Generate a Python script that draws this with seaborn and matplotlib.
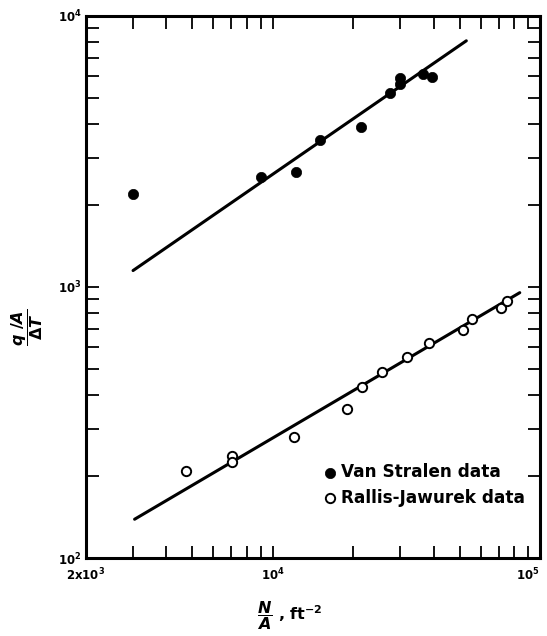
import numpy as np
import pandas as pd
import matplotlib
matplotlib.use("Agg")
import matplotlib.pyplot as plt
import seaborn as sns

# Van Stralen data (filled)
vs_x = [3000, 9000, 12200, 15000, 21300, 27400, 30000, 29900, 36400, 39300]
vs_y = [2200, 2550, 2650, 3500, 3900, 5200, 5900, 5600, 6100, 5950]
vs_line_x = [3000, 53000]
vs_line_y = [1150, 8100]

# Rallis-Jawurek data (open)
rj_x = [4750, 7050, 7050, 12000, 18900, 21500, 25600, 31900, 38400, 51300, 55600, 71500, 75200]
rj_y = [209, 237, 227, 279, 356, 427, 484, 551, 621, 694, 764, 838, 887]
rj_line_x = [3040, 84000]
rj_line_y = [139, 953]

xticks = [2e3, 1e4, 1e5]
xtick_labels = ['2x10$^3$', '10$^4$', '10$^5$']
yticks = [1e2, 1e3, 1e4]
ytick_labels = ['10$^2$', '10$^3$', '10$^4$']

sns.set_style("ticks")
plt.rcParams['font.family'] = ['DejaVu Sans']
plt.rcParams['mathtext.fontset'] = 'custom'
plt.rcParams['mathtext.it'] = 'DejaVu Sans:italic:bold'
plt.rcParams['mathtext.rm'] = 'DejaVu Sans:bold'
plt.rcParams['mathtext.bf'] = 'DejaVu Sans:bold'
for k in ['text.color', 'axes.labelcolor', 'axes.edgecolor', 'xtick.color', 'ytick.color']:
    plt.rcParams[k] = 'black'

fig = plt.figure(figsize=(5.47, 6.36), dpi=100)
ax = fig.add_axes([86/547, 78/636, 454/547, 542/636])

vs = pd.DataFrame({'x': vs_x, 'y': vs_y})
rj = pd.DataFrame({'x': rj_x, 'y': rj_y})

sns.lineplot(x=vs_line_x, y=vs_line_y, ax=ax, color='black', lw=2.2)
sns.lineplot(x=rj_line_x, y=rj_line_y, ax=ax, color='black', lw=2.2)
sns.scatterplot(data=vs, x='x', y='y', ax=ax, color='black', s=55,
                edgecolor='black', linewidth=0.5, label='Van Stralen data', zorder=3)
sns.scatterplot(data=rj, x='x', y='y', ax=ax, facecolor='white', s=45,
                edgecolor='black', linewidth=1.4, label='Rallis-Jawurek data', zorder=3)

ax.set_xscale('log')
ax.set_yscale('log')
ax.set_xlim(2e3, 1e5)
ax.set_ylim(1e2, 1e4)

ax.set_xticks(xticks)
ax.set_xticklabels(xtick_labels)
ax.set_yticks(yticks)
ax.set_yticklabels(ytick_labels)
ax.tick_params(which='both', direction='in', top=True, right=True,
               length=9, width=1.3, labelsize=8.5)
ax.tick_params(axis='x', which='major', pad=6)
ax.tick_params(axis='y', which='major', pad=3)
for lab in ax.get_xticklabels() + ax.get_yticklabels():
    lab.set_fontweight('bold')
ax.get_xticklabels()[-1].set_horizontalalignment('right')
for sp in ax.spines.values():
    sp.set_linewidth(2.2)
    sp.set_visible(True)

ax.set_xlabel(r'$\dfrac{N}{A}$ , ft$^{-2}$', fontsize=11.5, fontweight='bold')
ax.set_ylabel(r'$\dfrac{q\ /A}{\Delta T}$', fontsize=11.5, fontweight='bold')
ax.xaxis.set_label_coords(0.449, -0.075)
ax.yaxis.set_label_coords(-0.09, 0.426)

leg = ax.legend(loc='center left', bbox_to_anchor=(0.505, 0.135), frameon=False,
                handletextpad=0.2, handlelength=0.9, labelspacing=0.45,
                borderaxespad=0, prop={'size': 12.2, 'weight': 'bold'})

fig.savefig('out.png', dpi=100)
